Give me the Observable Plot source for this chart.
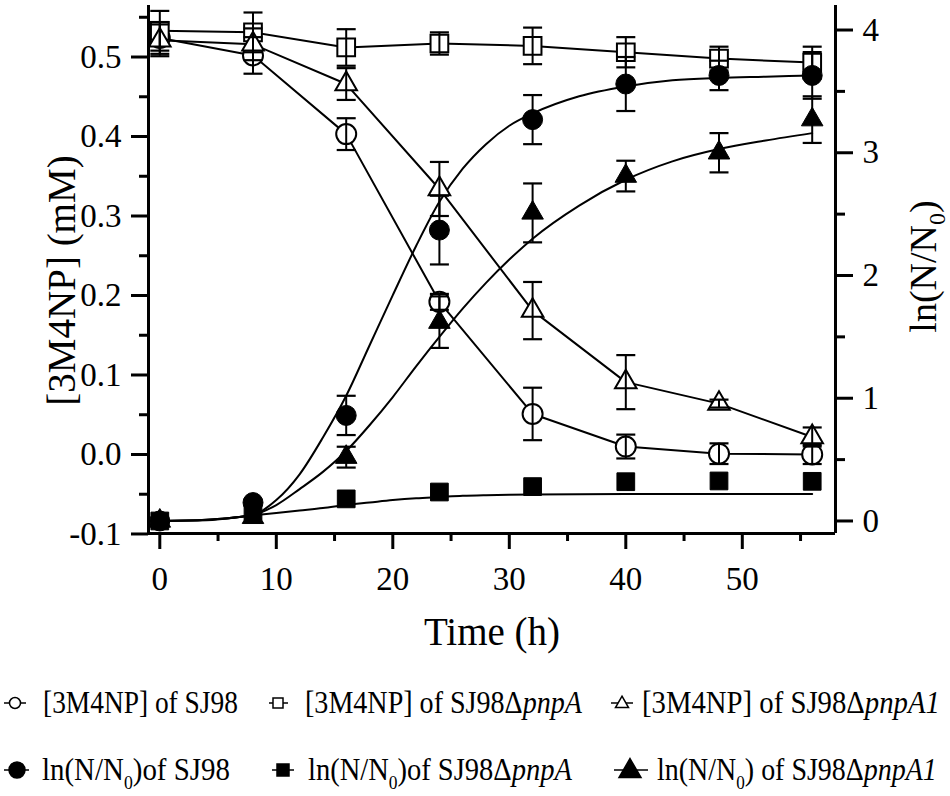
<!DOCTYPE html>
<html>
<head>
<meta charset="utf-8">
<script src="https://cdn.jsdelivr.net/npm/d3@7"></script>
<script src="https://cdn.jsdelivr.net/npm/@observablehq/plot@0.6"></script>
<style>
  html, body { margin: 0; padding: 0; background: #fff; }
  #chart svg, #legend svg { display: block; }
  #chart, #legend, #chart svg, #legend svg, #chart svg text, #legend svg text, svg tspan {
    font-family: 'Liberation Serif', serif !important;
  }
</style>
</head>
<body>
<div id="chart"></div>
<div id="legend"></div>
<script>
// ---------------- data ----------------
const times = [0, 8, 16, 24, 32, 40, 48, 56];

// [3M4NP] (mM), left axis
const mM_SJ98      = [0.524, 0.502, 0.403, 0.192, 0.051, 0.010, 0.001, 0.000];
const mM_SJ98_err  = [0.020, 0.023, 0.020, 0.010, 0.033, 0.015, 0.013, 0.012];
const mM_pnpA      = [0.533, 0.531, 0.512, 0.517, 0.514, 0.506, 0.498, 0.493];
const mM_pnpA_err  = [0.025, 0.025, 0.023, 0.014, 0.023, 0.019, 0.015, 0.020];
const mM_pnpA1     = [0.521, 0.516, 0.466, 0.334, 0.181, 0.091, 0.064, 0.022];
const mM_pnpA1_err = [0.020, 0.020, 0.020, 0.034, 0.036, 0.034, 0.005, 0.012];

// ln(N/N0), right axis
const ln_SJ98      = [0, 0.15, 0.86, 2.37, 3.27, 3.56, 3.63, 3.63];
const ln_SJ98_err  = [0, 0, 0.16, 0.28, 0.20, 0.22, 0.12, 0.19];
const ln_pnpA      = [0, 0.08, 0.18, 0.236, 0.28, 0.32, 0.326, 0.323];
const ln_pnpA_err  = [0, 0, 0, 0, 0, 0, 0, 0];
const ln_pnpA1     = [0, 0.03, 0.52, 1.62, 2.51, 2.81, 3.00, 3.27];
const ln_pnpA1_err = [0, 0, 0.085, 0.21, 0.24, 0.125, 0.16, 0.19];

// fitted growth curves
const fitTimes  = [0, 4, 8, 10, 12, 14, 16, 18, 20, 22, 24, 26, 28, 30, 32, 36, 40, 44, 48, 52, 56];
const fit_SJ98  = [0, 0.01, 0.05, 0.17, 0.38, 0.68, 1.02, 1.43, 1.84, 2.24, 2.60, 2.87, 3.07, 3.22, 3.32, 3.46, 3.54, 3.59, 3.61, 3.62, 3.63];
const fit_pnpA  = [0, 0.005, 0.045, 0.065, 0.085, 0.105, 0.13, 0.15, 0.17, 0.185, 0.195, 0.205, 0.21, 0.213, 0.215, 0.218, 0.22, 0.22, 0.22, 0.22, 0.22];
const fit_pnpA1 = [0, 0.01, 0.05, 0.13, 0.26, 0.40, 0.57, 0.78, 1.01, 1.26, 1.50, 1.73, 1.94, 2.13, 2.30, 2.57, 2.78, 2.93, 3.03, 3.10, 3.16];

// axis ticks
const xMajor = [0, 10, 20, 30, 40, 50];
const xMinor = [5, 15, 25, 35, 45, 55];
const yMajor = [-0.1, 0.0, 0.1, 0.2, 0.3, 0.4, 0.5];
const yMinor = [-0.05, 0.05, 0.15, 0.25, 0.35, 0.45, 0.55];
const rMajor = [0, 1, 2, 3, 4];
const rMinor = [0.5, 1.5, 2.5, 3.5];

// ---------------- layout ----------------
const FONT = "'Liberation Serif', serif";
const W = 950, H = 672;
const mL = 148, mR = 115, mT = 5, mB = H - 533;
const xDomain = [-0.97, 58.0];
const yDomain = [-0.0994, 0.5648];
// right axis value -> left-axis units
const rOff = -66.5 / 795, rK = 122.75 / 795;
const toY = r => rOff + rK * r;
const fromY = v => (v - rOff) / rK;

const rows = (vals, errs, f = v => v) =>
  times.map((t, i) => ({t, v: f(vals[i]), lo: f(vals[i] - errs[i]), hi: f(vals[i] + errs[i]), e: errs[i]}));

const openSeries = [
  {name: "SJ98",   data: rows(mM_SJ98, mM_SJ98_err),   symbol: "circle",   r: 10},
  {name: "pnpA",   data: rows(mM_pnpA, mM_pnpA_err),   symbol: "square",   r: 10},
  {name: "pnpA1",  data: rows(mM_pnpA1, mM_pnpA1_err), symbol: "triangle", r: 8}
];
const filledSeries = [
  {name: "SJ98",  data: rows(ln_SJ98, ln_SJ98_err, toY),   symbol: "circle",   r: 10},
  {name: "pnpA",  data: rows(ln_pnpA, ln_pnpA_err, toY),   symbol: "square",   r: 10},
  {name: "pnpA1", data: rows(ln_pnpA1, ln_pnpA1_err, toY), symbol: "triangle", r: 8}
];
const fits = [fit_SJ98, fit_pnpA, fit_pnpA1].map(arr => fitTimes.map((t, i) => ({t, v: toY(arr[i])})));

const capSymbol = {
  draw(ctx, size) { const w = Math.sqrt(size / Math.PI); ctx.moveTo(-w, 0); ctx.lineTo(w, 0); }
};

const errMarks = s => {
  const d = s.data.filter(p => p.e > 0);
  return [
    Plot.ruleX(d, {x: "t", y1: "lo", y2: "hi", stroke: "black", strokeWidth: 2}),
    Plot.dot(d, {x: "t", y: "lo", symbol: capSymbol, r: 9.5, stroke: "black", strokeWidth: 2.2}),
    Plot.dot(d, {x: "t", y: "hi", symbol: capSymbol, r: 9.5, stroke: "black", strokeWidth: 2.2})
  ];
};

const axisCommon = {stroke: "black", strokeWidth: 3, fontSize: 33, fontFamily: FONT, label: null};

const chart = Plot.plot({
  width: W, height: H,
  marginLeft: mL, marginRight: mR, marginTop: mT, marginBottom: mB,
  style: {fontFamily: FONT, color: "black", background: "white", overflow: "visible"},
  x: {domain: xDomain},
  y: {domain: yDomain},
  marks: [
    // axes
    Plot.axisX({...axisCommon, ticks: xMajor, tickSize: 16, tickPadding: 17, tickFormat: d => String(d)}),
    Plot.axisX({...axisCommon, ticks: xMinor, tickSize: 8, tickFormat: () => ""}),
    Plot.axisY({...axisCommon, anchor: "left", ticks: yMajor, tickSize: 17, tickPadding: 10, tickFormat: d => d.toFixed(1)}),
    Plot.axisY({...axisCommon, anchor: "left", ticks: yMinor, tickSize: 9, tickFormat: () => ""}),
    Plot.axisY(rMajor.map(toY), {...axisCommon, anchor: "right", tickSize: 17, tickPadding: 10, tickFormat: d => String(Math.round(fromY(d)))}),
    Plot.axisY(rMinor.map(toY), {...axisCommon, anchor: "right", tickSize: 9, tickFormat: () => ""}),
    // frame lines (left, right, bottom)
    Plot.ruleX(xDomain, {stroke: "black", strokeWidth: 3}),
    Plot.ruleY([yDomain[0]], {stroke: "black", strokeWidth: 3}),
    // fitted curves
    ...fits.map(f => Plot.line(f, {x: "t", y: "v", curve: "monotone-x", stroke: "black", strokeWidth: 2})),
    // connecting lines for concentration
    ...openSeries.map(s => Plot.line(s.data, {x: "t", y: "v", stroke: "black", strokeWidth: 2})),
    // markers
    ...openSeries.map(s => Plot.dot(s.data, {x: "t", y: "v", symbol: s.symbol, r: s.r, fill: "white", stroke: "black", strokeWidth: 2})),
    ...filledSeries.map(s => Plot.dot(s.data, {x: "t", y: "v", symbol: s.symbol, r: s.r, fill: "black", stroke: "black", strokeWidth: 1})),
    // error bars
    ...openSeries.flatMap(errMarks),
    ...filledSeries.flatMap(errMarks),
    // titles
    Plot.text(["Time (h)"], {frameAnchor: "bottom", dy: 99, textAnchor: "middle", lineAnchor: "middle", fontSize: 39, fontFamily: FONT, fill: "black"}),
    Plot.text(["[3M4NP] (mM)"], {frameAnchor: "left", dx: -86, dy: 11, rotate: -90, textAnchor: "middle", lineAnchor: "middle", fontSize: 39, fontFamily: FONT, fill: "black"}),
    Plot.text(["ln(N/N0)"], {frameAnchor: "right", dx: 88, dy: -3, rotate: -90, textAnchor: "middle", lineAnchor: "middle", fontSize: 38, fontFamily: FONT, fill: "black"})
  ]
});
document.getElementById("chart").appendChild(chart);

// subscript in the right-axis title
d3.select(chart).selectAll("text").each(function() {
  if (this.textContent === "ln(N/N0)") {
    this.innerHTML = 'ln(N/N<tspan dy="9" font-size="24">0</tspan><tspan dy="-9">)</tspan>';
  }
});

// ---------------- legend ----------------
const LH = 796 - H;
const leg = d3.select("#legend").append("svg").attr("width", W).attr("height", LH);
const legendItems = [
  {row: 0, l: [4, 26],    mx: 15,  sym: "circle",   fill: "white", s: 11, tx: 43,  w: 195, parts: [["[3M4NP] of SJ98"]]},
  {row: 0, l: [269, 288], mx: 278, sym: "square",   fill: "white", s: 10, tx: 305, w: 277, parts: [["[3M4NP] of SJ98Δ"], ["pnpA", "i"]]},
  {row: 0, l: [611, 633], mx: 622, sym: "triangle", fill: "white", s: 13, tx: 642, w: 298, parts: [["[3M4NP] of SJ98Δ"], ["pnpA1", "i"]]},
  {row: 1, l: [4, 29],    mx: 17,  sym: "circle",   fill: "black", s: 16, tx: 42,  w: 188, parts: [["ln(N/N"], ["0", "sub"], [")of SJ98", "up"]]},
  {row: 1, l: [272, 294], mx: 283, sym: "square",   fill: "black", s: 12, tx: 308, w: 264, parts: [["ln(N/N"], ["0", "sub"], [")of SJ98Δ", "up"], ["pnpA", "i"]]},
  {row: 1, l: [614, 648], mx: 630, sym: "triangle", fill: "black", s: 22, tx: 657, w: 280, parts: [["ln(N/N"], ["0", "sub"], [") of SJ98Δ", "up"], ["pnpA1", "i"]]}
];
const rowBase = [41, 108], rowMid = [31, 98];
legendItems.forEach(it => {
  const cy = rowMid[it.row];
  leg.append("line").attr("x1", it.l[0]).attr("x2", it.l[1]).attr("y1", cy).attr("y2", cy)
    .attr("stroke", "black").attr("stroke-width", 1.5);
  if (it.sym === "circle") {
    leg.append("circle").attr("cx", it.mx).attr("cy", cy).attr("r", it.s / 2)
      .attr("fill", it.fill).attr("stroke", "black").attr("stroke-width", 1.5);
  } else if (it.sym === "square") {
    leg.append("rect").attr("x", it.mx - it.s / 2).attr("y", cy - it.s / 2).attr("width", it.s).attr("height", it.s)
      .attr("fill", it.fill).attr("stroke", "black").attr("stroke-width", 1.5);
  } else {
    const h = it.s * 0.866;
    leg.append("path").attr("d", `M${it.mx},${cy - h * 0.6}L${it.mx + it.s / 2},${cy + h * 0.4}L${it.mx - it.s / 2},${cy + h * 0.4}Z`)
      .attr("fill", it.fill).attr("stroke", "black").attr("stroke-width", 1.5);
  }
  const t = leg.append("text").attr("x", 0).attr("y", 0)
    .attr("font-family", FONT).attr("font-size", 31).attr("fill", "black");
  it.parts.forEach(([str, kind]) => {
    const sp = t.append("tspan").text(str);
    if (kind === "i") sp.attr("font-style", "italic");
    if (kind === "sub") sp.attr("font-size", 19).attr("dy", 9);
    if (kind === "up") sp.attr("dy", -9);
  });
  const natural = t.node().getComputedTextLength();
  const sx = natural > 0 ? it.w / natural : 1;
  t.attr("transform", `translate(${it.tx},${rowBase[it.row]}) scale(${sx},1)`);
});
</script>
</body>
</html>
